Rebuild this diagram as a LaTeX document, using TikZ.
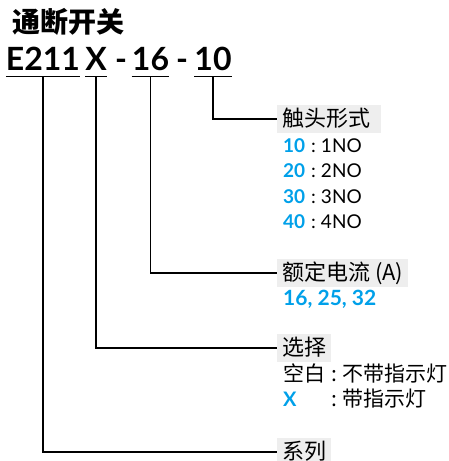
\documentclass[tikz,border=0pt]{standalone}
\usepackage{fontspec}
\setmainfont{Lato}
\newfontfamily\cjk{Noto Sans CJK SC}
\definecolor{abbblue}{RGB}{0,160,233}
\definecolor{boxgray}{RGB}{238,238,238}
\newcommand{\sepcolon}{\hspace{6pt}:\hspace{5pt}}
\begin{document}
\begin{tikzpicture}[x=1pt,y=-1pt,
  code/.style={font=\fontsize{32}{36}\selectfont\bfseries, anchor=base, inner xsep=0pt, inner ysep=6pt, text depth=0pt},
  uline/.style={line width=1.3pt},
  conn/.style={line width=1.3pt},
  lbl/.style={fill=boxgray, anchor=west, font=\fontsize{22}{26}\selectfont\cjk, inner xsep=5pt, minimum height=27pt, text height=18pt, text depth=4pt},
  body/.style={anchor=base west, inner sep=0pt, font=\fontsize{19}{23}\selectfont},
  cbody/.style={anchor=base west, inner sep=0pt, font=\fontsize{21}{25}\selectfont\cjk}
]
\useasboundingbox (0,0) rectangle (449,461);
% title
\node[anchor=west, inner sep=0pt, font=\fontsize{28}{32}\selectfont\cjk\bfseries] (title) at (12,22) {通断开关};
% code
\node[code] (e211) at (43,70) {E211};
\node[code] (cx) at (96,70) {X};
\node[code] (d1) at (121,70) {-};
\node[code] (c16) at (150.5,70) {16};
\node[code] (d2) at (182,70) {-};
\node[code] (c10) at (213,70) {10};
\foreach \n in {e211,cx,c16,c10}
  \draw[uline] (\n.south west) -- (\n.south east);
% labels
\node[lbl, minimum width=104pt, align=left, text width=94pt] (l1) at (277,119) {触头形式};
\node[lbl] (l2) at (277,273) {额定电流 (A)};
\node[lbl] (l3) at (277,348) {选择};
\node[lbl] (l4) at (277,452) {系列};
% connectors
\draw[conn] (c10.south) |- (l1.west);
\draw[conn] (c16.south) |- (l2.west);
\draw[conn] (cx.south) |- (l3.west);
\draw[conn] (e211.south) |- (l4.west);
% options
\node[body] (o1) at (283,152) {{\bfseries\color{abbblue}10}\sepcolon 1NO};
\node[body] (o2) at (283,177) {{\bfseries\color{abbblue}20}\sepcolon 2NO};
\node[body] (o3) at (283,203) {{\bfseries\color{abbblue}30}\sepcolon 3NO};
\node[body] (o4) at (283,228) {{\bfseries\color{abbblue}40}\sepcolon 4NO};
\node[body, font=\fontsize{21}{25}\selectfont\bfseries, text=abbblue] (r1) at (283,305) {16, 25, 32};
\node[cbody] (s1) at (283,381) {空白\hspace{6pt}:\hspace{5pt}不带指示灯};
\node[cbody] (s2) at (283,406) {\rlap{{\normalfont\fontsize{20}{24}\selectfont\bfseries\color{abbblue}X}}\phantom{空白}\hspace{6pt}:\hspace{5pt}带指示灯};
\end{tikzpicture}
\end{document}
